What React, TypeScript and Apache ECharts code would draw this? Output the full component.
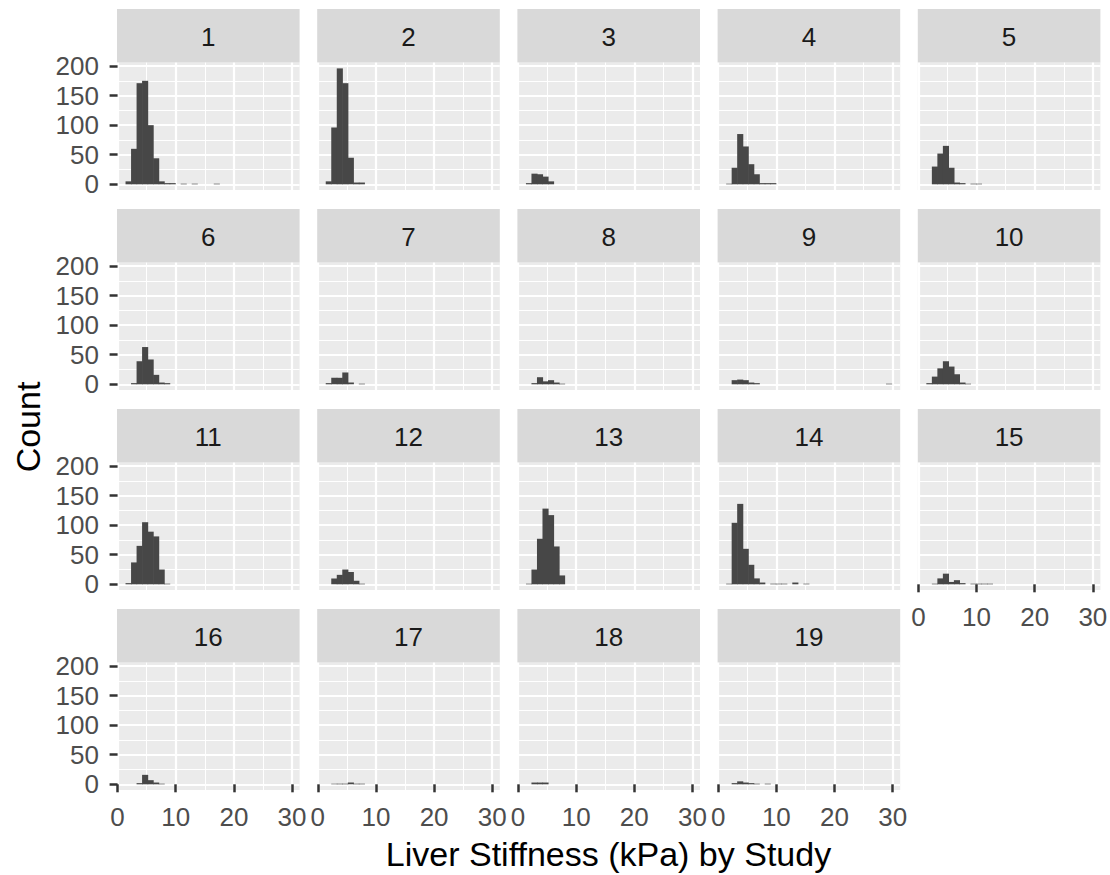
import React, { useEffect, useRef } from "react";
import * as echarts from "echarts";

// ---- Data ----
const STUDIES = ["1","2","3","4","5","6","7","8","9","10","11","12","13","14","15","16","17","18","19"];
// histogram bins: 30 bins of equal width starting at BIN_START (kPa)
const BIN_START = 1.42;
const BIN_WIDTH = 0.948;
// counts per bin, from the first bin onward
const COUNTS_1 = [5, 60, 171, 175, 100, 44, 5, 2, 2, 0, 1, 0, 1, 0, 0, 0, 1];
const COUNTS_2 = [5, 96, 196, 171, 45, 3, 3];
const COUNTS_3 = [2, 18, 17, 13, 5];
const COUNTS_4 = [1, 28, 85, 64, 34, 17, 2, 2, 2];
const COUNTS_5 = [0, 30, 52, 65, 28, 3, 2, 0, 1, 1];
const COUNTS_6 = [0, 2, 39, 63, 42, 16, 3, 2];
const COUNTS_7 = [2, 11, 11, 20, 3, 0, 1];
const COUNTS_8 = [0, 2, 12, 5, 7, 3, 1];
const COUNTS_9 = [0, 7, 8, 7, 3, 2, 0, 0, 0, 0, 0, 0, 0, 0, 0, 0, 0, 0, 0, 0, 0, 0, 0, 0, 0, 0, 0, 0, 0, 1];
const COUNTS_10 = [2, 13, 27, 39, 30, 17, 3, 1];
const COUNTS_11 = [2, 37, 65, 105, 89, 81, 25, 1];
const COUNTS_12 = [0, 10, 16, 25, 21, 6, 1];
const COUNTS_13 = [1, 25, 77, 128, 117, 64, 15];
const COUNTS_14 = [1, 104, 136, 60, 33, 10, 3, 0, 1, 1, 1, 0, 3, 0, 1];
const COUNTS_15 = [0, 1, 10, 18, 4, 7, 2, 0, 1, 1, 1, 1];
const COUNTS_16 = [0, 0, 2, 16, 7, 3, 1];
const COUNTS_17 = [0, 1, 1, 1, 3, 1, 1];
const COUNTS_18 = [0, 3, 3, 3];
const COUNTS_19 = [0, 2, 5, 3, 2, 1, 0, 1];
const STUDY_COUNTS = [
  COUNTS_1, COUNTS_2, COUNTS_3, COUNTS_4, COUNTS_5, COUNTS_6, COUNTS_7, COUNTS_8, COUNTS_9, COUNTS_10,
  COUNTS_11, COUNTS_12, COUNTS_13, COUNTS_14, COUNTS_15, COUNTS_16, COUNTS_17, COUNTS_18, COUNTS_19,
];

const X_MAJOR_TICKS = [0, 10, 20, 30];
const X_MINOR_TICKS = [5, 15, 25];
const Y_MAJOR_TICKS = [0, 50, 100, 150, 200];
const Y_MINOR_TICKS = [25, 75, 125, 175];
const X_MIN = -0.1;
const X_MAX = 31.3;
const Y_MIN = -9.8;
const Y_MAX = 205.8;

const X_TITLE = "Liver Stiffness (kPa) by Study";
const Y_TITLE = "Count";

// ---- Layout / style ----
const FONT = "'Liberation Sans', Arial, Helvetica, sans-serif";
const NCOL = 5;
const LEFT0 = 117;
const COL_PITCH = 200.2;
const PANEL_W = 182.6;
const TOP0 = 62.6;
const ROW_PITCH = 200;
const PANEL_H = 127.5;
const STRIP_H = 53.6;
const BAR_COLOR = "#474747";
const TICK_FONT = 26;

export default function App() {
  const ref = useRef<HTMLDivElement>(null);

  useEffect(() => {
    if (!ref.current) return;
    const chart = echarts.init(ref.current, null, { renderer: "svg" });

    const grids: any[] = [];
    const xAxes: any[] = [];
    const yAxes: any[] = [];
    const series: any[] = [];
    const graphics: any[] = [];

    STUDIES.forEach((name, i) => {
      const r = Math.floor(i / NCOL);
      const c = i % NCOL;
      const left = LEFT0 + c * COL_PITCH;
      const top = TOP0 + r * ROW_PITCH;
      const showX = i >= 14;
      const showY = c === 0;

      grids.push({
        left, top, width: PANEL_W, height: PANEL_H,
        show: true, backgroundColor: "#EBEBEB", borderWidth: 0,
        containLabel: false, outerBoundsMode: "none",
      });

      xAxes.push({
        type: "value", gridIndex: i, min: X_MIN, max: X_MAX, position: "bottom",
        axisLine: { show: false },
        axisTick: { show: showX, customValues: X_MAJOR_TICKS, length: 8, lineStyle: { color: "#333333", width: 2.5 } },
        axisLabel: { show: showX, customValues: X_MAJOR_TICKS, fontSize: TICK_FONT, color: "#4D4D4D", margin: 13.5, fontFamily: FONT },
        splitLine: { show: true, lineStyle: { color: "#FFFFFF", width: 2.2 } },
      });
      xAxes.push({
        type: "value", gridIndex: i, min: X_MIN, max: X_MAX, position: "top",
        axisLine: { show: false },
        axisTick: { show: false, customValues: X_MINOR_TICKS },
        axisLabel: { show: false },
        splitLine: { show: true, lineStyle: { color: "#FFFFFF", width: 1.1 } },
      });
      yAxes.push({
        type: "value", gridIndex: i, min: Y_MIN, max: Y_MAX, position: "left",
        axisLine: { show: false },
        axisTick: { show: showY, customValues: Y_MAJOR_TICKS, length: 8, lineStyle: { color: "#333333", width: 2.5 } },
        axisLabel: { show: showY, customValues: Y_MAJOR_TICKS, fontSize: TICK_FONT, color: "#4D4D4D", margin: 18, fontFamily: FONT },
        splitLine: { show: true, lineStyle: { color: "#FFFFFF", width: 2.2 } },
      });
      yAxes.push({
        type: "value", gridIndex: i, min: Y_MIN, max: Y_MAX, position: "right",
        axisLine: { show: false },
        axisTick: { show: false, customValues: Y_MINOR_TICKS },
        axisLabel: { show: false },
        splitLine: { show: true, lineStyle: { color: "#FFFFFF", width: 1.1 } },
      });

      const data = STUDY_COUNTS[i]
        .map((cnt, k) => [BIN_START + k * BIN_WIDTH, BIN_START + (k + 1) * BIN_WIDTH, cnt])
        .filter((d) => d[2] > 0);

      series.push({
        type: "custom",
        name: name,
        xAxisIndex: 2 * i,
        yAxisIndex: 2 * i,
        data,
        encode: { x: [0, 1], y: 2 },
        silent: true,
        renderItem: (params: any, api: any) => {
          const p0 = api.coord([api.value(0), api.value(2)]);
          const p1 = api.coord([api.value(1), 0]);
          return {
            type: "rect",
            shape: { x: p0[0] - 0.3, y: p0[1], width: p1[0] - p0[0] + 0.6, height: p1[1] - p0[1] },
            style: { fill: BAR_COLOR },
          };
        },
      });

      graphics.push({
        type: "rect",
        shape: { x: left, y: top - STRIP_H, width: PANEL_W, height: STRIP_H },
        style: { fill: "#D9D9D9" },
        silent: true,
      });
      graphics.push({
        type: "text",
        x: left + PANEL_W / 2,
        y: top - STRIP_H / 2 + 0.8,
        style: { text: name, fontSize: TICK_FONT, fill: "#1A1A1A", align: "center", verticalAlign: "middle", fontFamily: FONT },
        silent: true,
      });
    });

    graphics.push({
      type: "text",
      x: 608.5,
      y: 854,
      style: { text: X_TITLE, fontSize: 34, fill: "#000000", align: "center", verticalAlign: "middle", fontFamily: FONT },
    });
    graphics.push({
      type: "text",
      x: 27.5,
      y: 427,
      rotation: Math.PI / 2,
      style: { text: Y_TITLE, fontSize: 34, fill: "#000000", align: "center", verticalAlign: "middle", fontFamily: FONT },
    });

    chart.setOption({
      animation: false,
      backgroundColor: "#FFFFFF",
      textStyle: { fontFamily: FONT },
      grid: grids,
      xAxis: xAxes,
      yAxis: yAxes,
      series,
      graphic: graphics,
    });

    return () => chart.dispose();
  }, []);

  return <div ref={ref} style={{ position: "fixed", left: 0, top: 0, width: 1110, height: 875 }} />;
}
